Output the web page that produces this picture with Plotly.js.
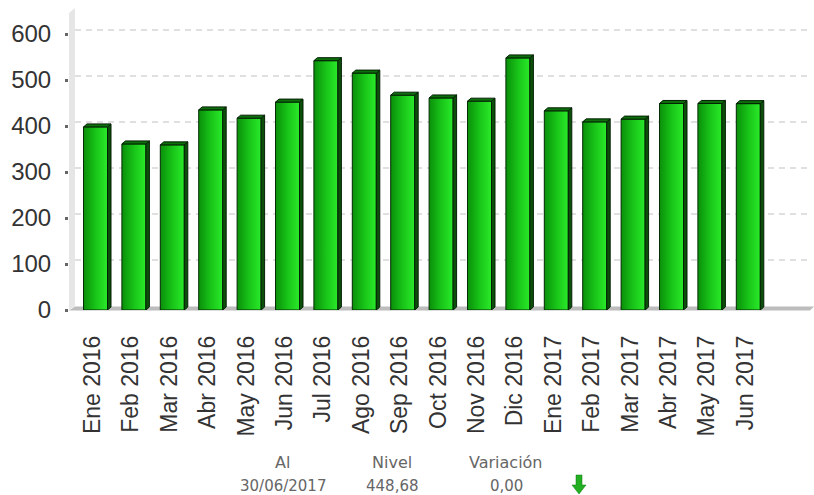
<!DOCTYPE html>
<html><head><meta charset="utf-8">
<script src="https://cdn.plot.ly/plotly-3.0.1.min.js"></script>
<style>html,body{margin:0;padding:0;background:#fff}</style></head>
<body><div id="chart" style="width:814px;height:495px"></div>
<script>
const months = ["Ene 2016","Feb 2016","Mar 2016","Abr 2016","May 2016","Jun 2016","Jul 2016","Ago 2016","Sep 2016","Oct 2016","Nov 2016","Dic 2016","Ene 2017","Feb 2017","Mar 2017","Abr 2017","May 2017","Jun 2017"];
const nivel = [398,361,359,435,417,452,542,515,467,461,454,548,433,409,415,449,449,448.68];
const yTicks = [0,100,200,300,400,500,600];
const footHead = ["Al","Nivel","Variación"];
const footVals = ["30/06/2017","448,68","0,00"];

const W=814,H=495,L=69,R=812,T=5,B=310;
const yMax=(B-T)/0.46, pitch=38.4;
const xMin=(L-95.5)/pitch, xMax=(R-95.5)/pitch;
const hw=0.3125, dx=3.5/pitch, dy=3/0.46;
const X=x=>(x-L)/(R-L), Y=y=>(B-y)/(B-T);

const idx=months.map((_,i)=>i);
const side={x:[],y:[]}, top_={x:[],y:[]};
idx.forEach(i=>{const v=nivel[i],r=i+hw,l=i-hw;
  side.x.push(r,r+dx,r+dx,r,r,null); side.y.push(0,dy,v+dy,v,0,null);
  top_.x.push(l,l+dx,r+dx,r,l,null); top_.y.push(v,v+dy,v+dy,v,v,null);
});
const traces=[
 {type:'bar',x:idx,y:nivel,width:hw*2,marker:{color:'#16b016',line:{color:'#062a06',width:1}},hoverinfo:'x+y'},
 {type:'scatter',mode:'lines',x:side.x,y:side.y,fill:'toself',fillcolor:'#0b4f0b',line:{color:'#052005',width:1},hoverinfo:'skip'},
 {type:'scatter',mode:'lines',x:top_.x,y:top_.y,fill:'toself',fillcolor:'#0c6f0c',line:{color:'#052005',width:1},hoverinfo:'skip'}
];
const shapes=[
 {type:'path',xref:'paper',yref:'paper',layer:'below',line:{width:0},fillcolor:'#e6e6e6',
  path:`M${X(69)},${Y(310)} L${X(69)},${Y(13)} L${X(75)},${Y(8)} L${X(75)},${Y(306)} Z`},
 {type:'path',xref:'paper',yref:'paper',layer:'below',line:{width:0},fillcolor:'#bcbcbc',
  path:`M${X(69)},${Y(310.5)} L${X(75)},${Y(306.5)} L${X(814)},${Y(306.5)} L${X(810)},${Y(310.5)} Z`}
];
yTicks.slice(1).forEach(v=>{
 shapes.push({type:'line',xref:'paper',yref:'y',layer:'below',x0:X(75),x1:X(812),y0:v+8.7,y1:v+8.7,line:{color:'#e0e0e0',width:2,dash:'6px,5px'}});
});
// footer arrow
const ax=579, ay=475;
shapes.push({type:'path',xref:'paper',yref:'paper',line:{color:'#0c7a0c',width:0.5},fillcolor:'#22b022',
 path:[[ax-3,ay],[ax+3,ay],[ax+3,ay+10],[ax+7,ay+10],[ax,ay+19],[ax-7,ay+10],[ax-3,ay+10]].map((p,i)=>(i?'L':'M')+X(p[0])+','+Y(p[1])).join(' ')+' Z'});

const footX=[282,392,506];
const ann=[];
footHead.forEach((t,i)=>ann.push({text:t,xref:'paper',yref:'paper',x:X(footX[i]),y:Y(462),xanchor:'center',yanchor:'middle',showarrow:false,font:{family:'"DejaVu Sans",sans-serif',size:16,color:'#666'}}));
footVals.forEach((t,i)=>ann.push({text:t,xref:'paper',yref:'paper',x:X(footX[i]+[1,0,0][i]),y:Y(486),xanchor:'center',yanchor:'middle',showarrow:false,font:{family:'"DejaVu Sans",sans-serif',size:15,color:'#666'}}));

const layout={width:W,height:H,margin:{l:L,r:W-R,t:T,b:H-B,pad:0},paper_bgcolor:'#fff',plot_bgcolor:'rgba(0,0,0,0)',showlegend:false,
 font:{family:'"Liberation Sans",Arial,sans-serif',color:'#333'},
 xaxis:{range:[xMin,xMax],tickmode:'array',tickvals:idx,ticktext:months,tickangle:-90,tickfont:{size:23,color:'#333'},ticks:'',showgrid:false,zeroline:false,showline:false,ticklabelstandoff:20,ticklabelshift:-3},
 yaxis:{range:[0,yMax],tickmode:'array',tickvals:yTicks,tickfont:{size:24,color:'#333'},ticks:'outside',ticklen:3,tickwidth:3,tickcolor:'#666',showgrid:false,zeroline:false,showline:false,ticklabelstandoff:9},
 shapes:shapes,annotations:ann,bargap:0};
Plotly.newPlot('chart',traces,layout,{displayModeBar:false,staticPlot:true}).then(gd=>{
 const svg=gd.querySelector('svg.main-svg');
 const ns='http://www.w3.org/2000/svg';
 const defs=document.createElementNS(ns,'defs');
 const g=document.createElementNS(ns,'linearGradient');
 g.setAttribute('id','barGrad');g.setAttribute('x1','0');g.setAttribute('x2','1');g.setAttribute('y1','0');g.setAttribute('y2','0');
 [['0','#0a8f0a'],['0.5','#18c418'],['1','#2aea2a']].forEach(s=>{const e=document.createElementNS(ns,'stop');e.setAttribute('offset',s[0]);e.setAttribute('stop-color',s[1]);g.appendChild(e);});
 defs.appendChild(g);svg.insertBefore(defs,svg.firstChild);
 gd.querySelectorAll('.barlayer .point path').forEach(p=>{p.style.fill='url(#barGrad)';});
});
</script></body></html>
